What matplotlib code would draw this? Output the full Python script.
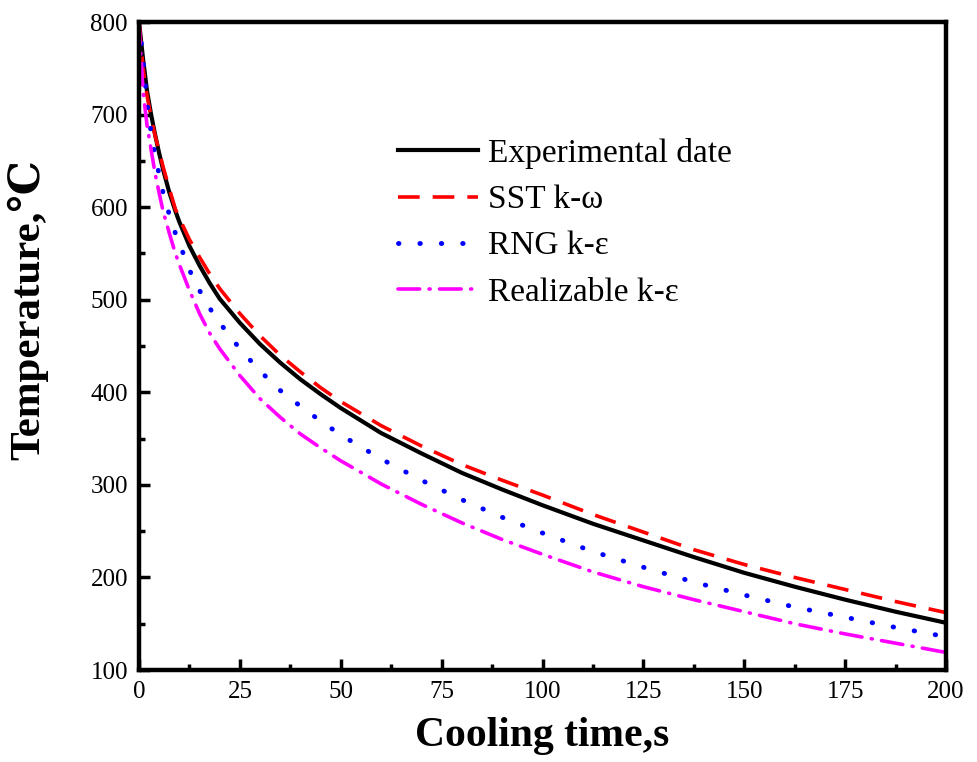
import matplotlib
matplotlib.use("Agg")
import matplotlib.pyplot as plt
from matplotlib.ticker import MultipleLocator

plt.rcParams['font.family'] = ['Liberation Serif', 'DejaVu Serif']

time_s = [0, 1, 2, 3, 4, 5, 6, 7.5, 9, 10, 12.5, 15, 17.5, 20, 25, 30, 35, 40, 45, 50,
          60, 70, 80, 90, 100, 112.5, 125, 137.5, 150, 162.5, 175, 187.5, 200]
experimental = [800, 760, 725, 700, 678, 658, 640, 616, 596, 584, 558, 537, 518, 501, 475, 452, 432, 414, 398, 383,
                356, 334, 313, 295, 278, 258, 240, 222, 205, 190, 176, 163, 151]
sst_kw = [800, 750, 720, 697, 677, 660, 643, 620, 598, 588, 565, 546, 528, 512, 485, 461, 440, 422, 405, 390,
          364, 342, 322, 305, 289, 268, 249, 230, 214, 200, 187, 174, 162]
rng_ke = [800, 760, 712, 680, 655, 635, 615, 592, 572, 561, 532, 510, 491, 475, 447, 423, 402, 385, 369, 354,
          328, 305, 284, 265, 248, 228, 211, 195, 181, 168, 157, 146, 136]
realizable_ke = [800, 725, 688, 662, 636, 615, 595, 572, 550, 538, 510, 485, 464, 447, 418, 393, 373, 355, 340, 326,
                 301, 279, 259, 241, 225, 206, 190, 176, 163, 150, 139, 129, 119]

labels = ['Experimental date', 'SST k-ω', 'RNG k-ε', 'Realizable k-ε']
x_ticks = [0, 25, 50, 75, 100, 125, 150, 175, 200]
y_ticks = [100, 200, 300, 400, 500, 600, 700, 800]

fig = plt.figure(figsize=(9.77, 7.62), dpi=100)
ax = fig.add_axes([0.1423, 0.1207, 0.8260, 0.8504])

lw = 2.6
ax.plot(time_s, experimental, color='black', lw=lw + 0.4, label=labels[0])
ax.plot(time_s, sst_kw, color='red', lw=lw, linestyle=(0, (6.0, 3.6)), label=labels[1])
ax.plot(time_s, rng_ke, color='blue', lw=lw + 0.9, linestyle=(0, (0.1, 4.3)),
        dash_capstyle='round', label=labels[2])
ax.plot(time_s, realizable_ke, color='magenta', lw=lw, linestyle=(0, (6.0, 2.6, 0.3, 2.6)),
        dash_capstyle='round', label=labels[3])

ax.set_xlim(0, 200)
ax.set_ylim(100, 800)
ax.set_xticks(x_ticks)
ax.set_yticks(y_ticks)
ax.xaxis.set_minor_locator(MultipleLocator(12.5))
ax.yaxis.set_minor_locator(MultipleLocator(50))
ax.tick_params(which='major', direction='in', length=8, width=2.5, labelsize=18, pad=8)
ax.tick_params(which='minor', direction='in', length=4.5, width=2.5)
for sp in ax.spines.values():
    sp.set_linewidth(3.2)

ax.set_xlabel('Cooling time,s', fontsize=30, fontweight='bold', labelpad=10)
ax.set_ylabel('Temperature,℃', fontsize=31, fontweight='bold')
ax.yaxis.set_label_coords(-0.112, 0.557)

ax.legend(loc='upper left', bbox_to_anchor=(0.321, 0.821), frameon=False,
          fontsize=24, handlelength=2.4, handletextpad=0.3, labelspacing=0.47,
          borderpad=0, borderaxespad=0)

fig.savefig('out.png', dpi=100)
